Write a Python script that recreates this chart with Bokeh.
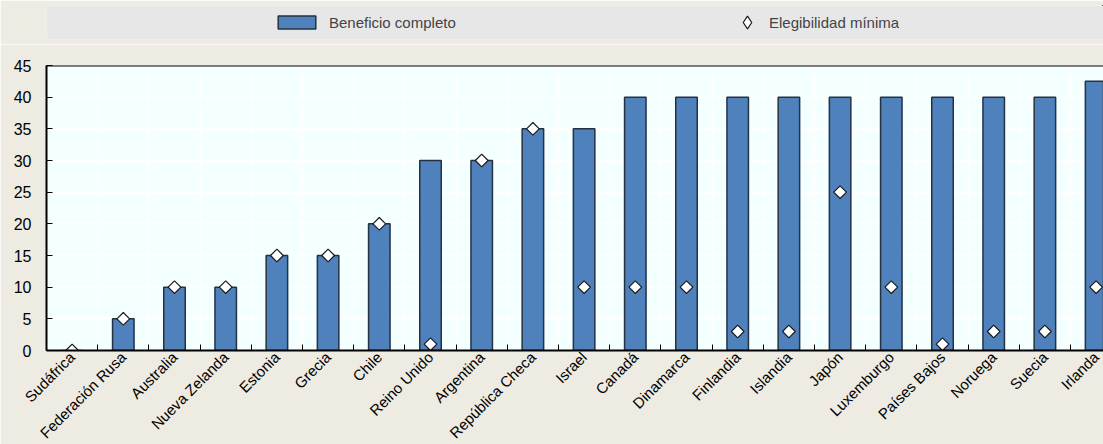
import math
from bokeh.plotting import figure
from bokeh.models import Range1d, FixedTicker, Legend, LegendItem, ColumnDataSource, Span
from bokeh.layouts import column
from bokeh.embed import file_html
from bokeh.resources import INLINE

countries = ["Sudáfrica", "Federación Rusa", "Australia", "Nueva Zelanda", "Estonia", "Grecia",
             "Chile", "Reino Unido", "Argentina", "República Checa", "Israel", "Canadá",
             "Dinamarca", "Finlandia", "Islandia", "Japón", "Luxemburgo", "Países Bajos",
             "Noruega", "Suecia", "Irlanda"]
beneficio_completo = [0, 5, 10, 10, 15, 15, 20, 30, 30, 35, 35, 40, 40, 40, 40, 40, 40, 40, 40, 40, 42.5]
elegibilidad_minima = [0, 5, 10, 10, 15, 15, 20, 1, 30, 35, 10, 10, 10, 3, 3, 25, 10, 1, 3, 3, 10]
y_ticks = [0, 5, 10, 15, 20, 25, 30, 35, 40, 45]
series_names = ["Beneficio completo", "Elegibilidad mínima"]

BG = "#EDEBE2"
PLOT_BG = "#F4FFFF"
BAND = "#E7E7E7"
BAR = "#4F81BD"
EDGE = "#243240"
FONT = "Liberation Sans"

idx = list(range(len(countries)))
src = ColumnDataSource(dict(x=idx, full=beneficio_completo, minimum=elegibilidad_minima, name=countries))

# ---------------- main chart ----------------
step_px = 51.2
frame_w = 1103 - 46
p = figure(width=1103, height=430, output_backend="svg", toolbar_location=None,
           x_range=Range1d(-0.5, -0.5 + frame_w / step_px), y_range=Range1d(0, 45),
           min_border_left=46, min_border_right=0, min_border_top=21, min_border_bottom=124,
           background_fill_color=PLOT_BG, border_fill_color=BG, outline_line_color=None)

p.vbar(x="x", top="full", width=0.42, source=src, fill_color=BAR, line_color=EDGE, line_width=1.5)
p.scatter(x="x", y="minimum", marker="square", angle=math.pi / 4, size=9, source=src,
          fill_color="white", line_color="#1A1A1A", line_width=1.2)

boundaries = [i - 0.5 for i in range(len(countries) + 1)]

xa = p.xaxis[0]
xa.ticker = FixedTicker(ticks=idx, minor_ticks=boundaries)
xa.major_label_overrides = {i: n for i, n in zip(idx, countries)}
xa.major_label_orientation = math.pi / 4
xa.major_tick_in = 0
xa.major_tick_out = 0
xa.minor_tick_in = 6
xa.minor_tick_out = 0
xa.minor_tick_line_color = "black"
xa.axis_line_width = 2
xa.axis_line_color = "black"
xa.major_label_standoff = 4
xa.major_label_text_font = FONT
xa.major_label_text_font_size = "15px"
xa.major_label_text_color = "black"

ya = p.yaxis[0]
ya.ticker = FixedTicker(ticks=y_ticks, minor_ticks=[])
ya.major_tick_in = 6
ya.major_tick_out = 0
ya.major_tick_line_color = "black"
ya.axis_line_width = 2
ya.axis_line_color = "black"
ya.major_label_standoff = 15
ya.major_label_text_font = FONT
ya.major_label_text_font_size = "16px"
ya.major_label_text_color = "black"

p.xgrid.ticker = FixedTicker(ticks=boundaries)
p.xgrid.grid_line_color = "white"
p.xgrid.grid_line_width = 1.5
p.ygrid.grid_line_color = "white"
p.ygrid.grid_line_width = 1.5

p.add_layout(Span(location=45, dimension="width", line_color="black", line_width=2))

# ---------------- legend band ----------------
lg = figure(width=1103, height=44, output_backend="svg", toolbar_location=None,
            x_range=Range1d(-100, -99), y_range=Range1d(-100, -99),
            min_border_left=46, min_border_right=0, min_border_top=5, min_border_bottom=5,
            background_fill_color=BAND, border_fill_color=BG, outline_line_color=None)
lg.axis.visible = False
lg.grid.visible = False
r1 = lg.vbar(x="x", top="full", width=0.42, source=src, fill_color=BAR, line_color=EDGE, line_width=1.5)
r2 = lg.scatter(x="x", y="minimum", marker="diamond", size=9, source=src,
                fill_color="white", line_color="#1A1A1A", line_width=1.2)

leg1 = Legend(items=[LegendItem(label=series_names[0], renderers=[r1])], location=(227, 7),
              glyph_width=47, glyph_height=16, label_standoff=9, padding=0, margin=0,
              border_line_color=None, background_fill_alpha=0,
              label_text_font=FONT, label_text_font_size="15px", label_height=20)
leg2 = Legend(items=[LegendItem(label=series_names[1], renderers=[r2])], location=(685, 1),
              glyph_width=32, glyph_height=32, label_standoff=6, padding=0, margin=0,
              border_line_color=None, background_fill_alpha=0,
              label_text_font=FONT, label_text_font_size="15px", label_height=20)
lg.add_layout(leg1)
lg.add_layout(leg2)

layout = column(lg, p, spacing=0, width=1103, height=444, sizing_mode="fixed",
                styles={"overflow": "hidden"})
open("out.html", "w").write(file_html(layout, INLINE))
